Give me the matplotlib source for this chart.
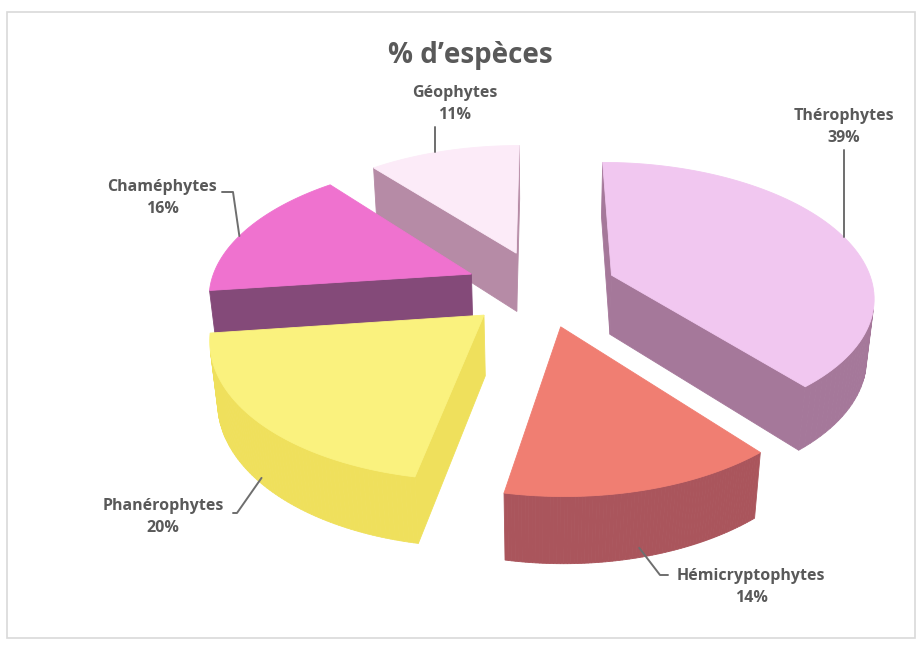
import numpy as np
import matplotlib
matplotlib.use("Agg")
import matplotlib.pyplot as plt
from matplotlib.patches import Polygon, Rectangle

# Types biologiques : part des espèces (%)
categories = ["Thérophytes", "Hémicryptophytes", "Phanérophytes", "Chaméphytes", "Géophytes"]
valeurs = [39, 14, 20, 16, 11]

# couleurs : dessus / côtés
col_dessus = ["#f1c7f0", "#f07e72", "#faf27e", "#ef72cf", "#fcebf8"]
col_cote = ["#a5789a", "#aa555c", "#efe05c", "#844a79", "#b68ba6"]

# camera / géométrie du camembert 3D
cx, cy = 541.0, 288.0
F, q, incl = 262.0, 0.145, np.arcsin(0.506)
sn, cs = np.sin(incl), np.cos(incl)
D = cs / q
f = F * D
epais = 0.27
eclat = 0.29


def proj(x, y, z):
    d = D - y * sn - z * cs
    return cx + f * x / d, cy + f * (z * sn - y * cs) / d


def dirv(t):
    return np.sin(t), -np.cos(t)


cam = np.array([0.0, D * sn, D * cs])


def visible(n, p):
    return np.dot(n, cam - np.asarray(p)) > 0


fig = plt.figure(figsize=(9.22, 6.46), dpi=100)
ax = fig.add_axes([0, 0, 1, 1])
ax.set_xlim(0, 922)
ax.set_ylim(646, 0)
ax.axis("off")

ax.add_patch(Rectangle((7, 12), 908, 626, fill=False, ec="#d9d9d9", lw=1.2))

frac = np.array(valeurs) / np.sum(valeurs)
bornes = np.concatenate([[0], np.cumsum(frac)]) * 2 * np.pi

parts = []
for i in range(len(valeurs)):
    t0, t1 = bornes[i], bornes[i + 1]
    tm = 0.5 * (t0 + t1)
    ox, oz = eclat * np.array(dirv(tm))
    parts.append((oz, i, t0, t1, ox))

# dessin de l'arrière vers l'avant
parts.sort(key=lambda p: p[0])
ancres = {}
for oz, i, t0, t1, ox in parts:
    ts = np.linspace(t0, t1, 80)
    ux, uz = dirv(ts)
    ax_, az_ = ox + ux, oz + uz
    faces = []
    # faces coupées
    for t, sgn in ((t0, -1), (t1, 1)):
        n = sgn * np.array([np.cos(t), 0, np.sin(t)])
        px, pz = dirv(t)
        pt = [(ox, 0, oz), (ox + px, 0, oz + pz), (ox + px, -epais, oz + pz), (ox, -epais, oz)]
        if visible(n, (ox + 0.5 * px, -epais / 2, oz + 0.5 * pz)):
            faces.append(([proj(*p) for p in pt], col_cote[i]))
    # face extérieure
    for k in range(len(ts) - 1):
        tmid = 0.5 * (ts[k] + ts[k + 1])
        n = np.array([np.sin(tmid), 0, -np.cos(tmid)])
        if not visible(n, (ax_[k], -epais / 2, az_[k])):
            continue
        pt = [(ax_[k], 0, az_[k]), (ax_[k + 1], 0, az_[k + 1]),
              (ax_[k + 1], -epais, az_[k + 1]), (ax_[k], -epais, az_[k])]
        faces.append(([proj(*p) for p in pt], col_cote[i]))
    for poly, c in faces:
        ax.add_patch(Polygon(poly, closed=True, fc=c, ec=c, lw=0.6))
    dessus = [proj(ox, 0, oz)] + [proj(x, 0, z) for x, z in zip(ax_, az_)]
    ax.add_patch(Polygon(dessus, closed=True, fc=col_dessus[i], ec=col_dessus[i], lw=0.6))

    def pt_arc(t, h=0.0, ox=ox, oz=oz):
        px, pz = dirv(t)
        return proj(ox + px, h, oz + pz)
    ancres[i] = pt_arc

gris = "#595959"
police = "Open Sans"
ax.text(470, 55, "% d\u2019espèces", ha="center", va="center", fontsize=20,
        fontweight="bold", color=gris, family=police)

# étiquettes : position du texte, angle d'accroche, hauteur d'accroche
etiq = [(844, 127, 72, 0.0), (751, 587, 166, -0.85), (163, 517, 228, -0.9),
        (162, 198, 288, 0.0), (455, 104, 338, 0.0)]
for i, (tx, ty, ang, h) in enumerate(etiq):
    ax.text(tx, ty, f"{categories[i]}\n{valeurs[i]}%", ha="center", va="center",
            fontsize=11.5, fontweight="bold", color=gris, family=police,
            linespacing=1.45)
    axp, ayp = ancres[i](np.radians(ang), h * epais)
    if i == 0:
        xs, ys = [axp, axp], [150, ayp]
    elif i == 4:
        xs, ys = [axp, axp], [127, ayp]
    elif i == 1:
        xs, ys = [axp, 660, 668], [ayp, 575, 575]
    elif i == 2:
        xs, ys = [axp, 237, 233], [ayp, 513, 513]
    else:
        xs, ys = [222, 233, axp], [192, 192, ayp]
    ax.plot(xs, ys, color="#6e6e6e", lw=1.4, solid_capstyle="round")

fig.savefig("out.png", dpi=100, facecolor="white")
